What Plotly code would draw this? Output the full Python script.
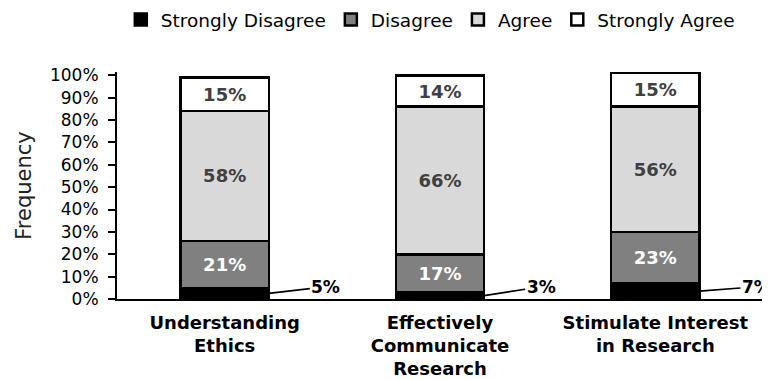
import plotly.graph_objects as go

categories = ["Understanding<br>Ethics", "Effectively<br>Communicate<br>Research", "Stimulate Interest<br>in Research"]
strongly_disagree = [5, 3, 7]
disagree = [21, 17, 23]
agree = [58, 66, 56]
strongly_agree = [15, 14, 15]
y_ticks = [0, 10, 20, 30, 40, 50, 60, 70, 80, 90, 100]

BAR_W = 0.41
Y_MAX = 101.5
LABEL_LEVEL = 5.5  # vertical level of the outside labels (data units)
FONT = "DejaVu Sans, Liberation Sans, Arial, sans-serif"
xs = list(range(len(categories)))

series = [
    ("Strongly Disagree", strongly_disagree, "#000000", None),
    ("Disagree", disagree, "#808080", "#ffffff"),
    ("Agree", agree, "#d9d9d9", "#404040"),
    ("Strongly Agree", strongly_agree, "#ffffff", "#404040"),
]

fig = go.Figure()
for name, vals, color, tcolor in series:
    fig.add_trace(go.Bar(
        x=xs, y=vals, name=name, width=BAR_W,
        marker=dict(color=color, line=dict(color="#000000", width=2.5)),
        text=[f"<b>{v}%</b>" for v in vals] if tcolor else None,
        textposition="inside" if tcolor else "none",
        insidetextanchor="middle",
        textfont=dict(family=FONT, size=18, color=tcolor or "#000"),
        textangle=0,
        cliponaxis=False,
        hoverinfo="skip",
    ))

for i, v in enumerate(strongly_disagree):
    fig.add_annotation(
        x=xs[i] + BAR_W / 2, y=v / 2, xref="x", yref="y",
        text=f"<b>{v}%</b>", showarrow=True, arrowhead=0, arrowwidth=1.6,
        arrowcolor="#000", axref="pixel", ax=57, ayref="y", ay=LABEL_LEVEL,
        standoff=0,
        font=dict(family=FONT, size=17, color="#000"),
    )

fig.update_layout(
    barmode="stack",
    width=762, height=371,
    margin=dict(l=109, r=7, t=64, b=80, autoexpand=False),
    paper_bgcolor="white", plot_bgcolor="white",
    font=dict(family=FONT, color="#000"),
    legend=dict(
        orientation="h", x=0.485, xanchor="center", y=1.229, yanchor="middle",
        font=dict(family=FONT, size=18.5, color="#000"),
        itemwidth=30, traceorder="normal",
    ),
    xaxis=dict(
        range=[-0.5, 2.5], tickvals=xs,
        ticktext=[f"<b>{c}</b>" for c in categories],
        tickfont=dict(family=FONT, size=18, color="#000"),
        showline=True, linecolor="#000", linewidth=2,
        ticks="outside", ticklen=6, tickcolor="rgba(0,0,0,0)",
        showgrid=False, zeroline=False, fixedrange=True, automargin=False,
    ),
    yaxis=dict(
        range=[0, Y_MAX], tickvals=y_ticks, ticktext=[f"{t}%" for t in y_ticks],
        tickfont=dict(family=FONT, size=17, color="#000"),
        showline=True, linecolor="#000", linewidth=2,
        ticks="outside", ticklen=7, tickwidth=2, tickcolor="#000",
        ticklabelstandoff=6,
        showgrid=False, zeroline=False, automargin=False,
        title=dict(text="Frequency", font=dict(family=FONT, size=21, color="#222"), standoff=13),
    ),
    showlegend=True,
)

fig.write_html("out.html")
